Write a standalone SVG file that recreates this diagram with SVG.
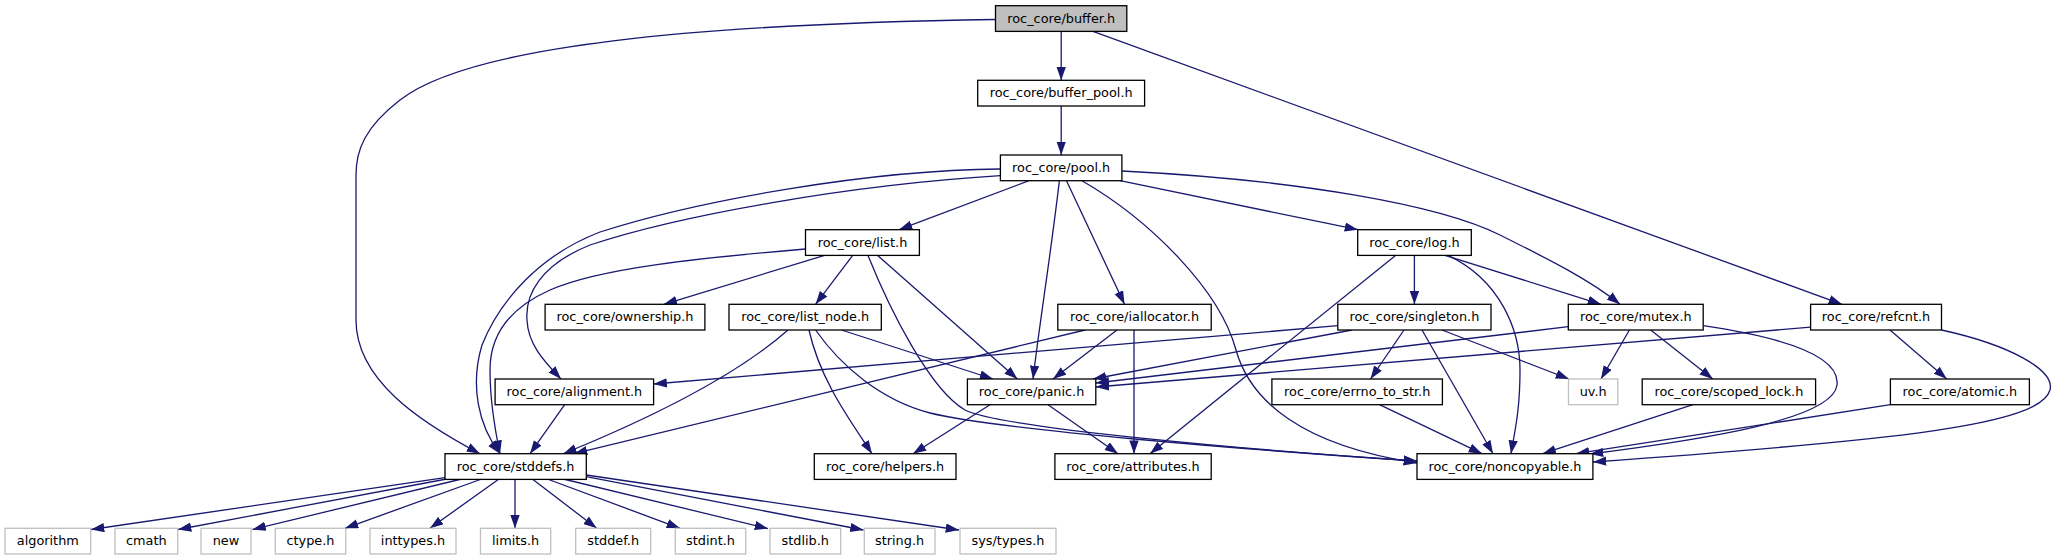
<svg xmlns="http://www.w3.org/2000/svg" width="2056" height="560" viewBox="0 0 2056 560">
<defs>
<marker id="ah" markerUnits="userSpaceOnUse" markerWidth="14" markerHeight="10" refX="13.3" refY="4.67" orient="auto">
<path d="M0,0 L13.3,4.67 L0,9.33 Z" fill="#191970"/>
</marker>
</defs>
<style>
.e{fill:none;stroke:#191970;stroke-width:1.3;marker-end:url(#ah)}
.n rect{fill:#fff;stroke:#000;stroke-width:1.3}
.r rect{fill:#bfbfbf;stroke:#000;stroke-width:1.3}
.x rect{fill:#fff;stroke:#bfbfbf;stroke-width:1.3}
text{font-family:"DejaVu Sans","Liberation Sans",sans-serif;font-size:12.85px;text-anchor:middle;fill:#000}
</style>
<rect x="0" y="0" width="2056" height="560" fill="#fff"/>
<g id="edges">
<path class="e" d="M1061.2,31.4 L1061.2,80.3"/>
<path class="e" d="M995.5,19.5 C700,24 470,45 400,100 C365,127 356,150 356,175 L356,320 C356,380 420,422 480,453.7"/>
<path class="e" d="M1093,31.4 L1842,304.3"/>
<path class="e" d="M1061.2,106 L1061.2,155"/>
<path class="e" d="M1029,180.7 L899,229.7"/>
<path class="e" d="M1120,180.7 L1358,229.7"/>
<path class="e" d="M1059.4,180.7 C1050,260 1040,320 1033,379"/>
<path class="e" d="M1066.5,180.7 L1124.5,304.3"/>
<path class="e" d="M1082,180.7 C1150,220 1220,290 1236,350 C1250,400 1300,445 1417,463"/>
<path class="e" d="M1121.9,171 C1300,180 1440,205 1500,235 C1550,260 1590,280 1620,304.3"/>
<path class="e" d="M1000.4,169 C870,170 700,200 600,232 C540,255 500,300 482,345 C470,385 478,425 500,453.7"/>
<path class="e" d="M1000.4,175.7 C850,185 680,215 590,245 C540,265 525,295 527,320 C528,345 545,362 561,379"/>
<path class="e" d="M824.6,255.4 L663.8,304.3"/>
<path class="e" d="M852.7,255.4 L815.6,304.3"/>
<path class="e" d="M877.7,255.4 L1017.4,379"/>
<path class="e" d="M868,255.4 C890,310 930,390 965,410 C1000,428 1250,450 1417,461"/>
<path class="e" d="M805.5,249 C700,258 600,268 550,290 C505,310 490,340 490,370 C490,400 495,430 500,453.7"/>
<path class="e" d="M1414.4,255.4 L1414.4,304.3"/>
<path class="e" d="M1445,255.4 L1601,304.3"/>
<path class="e" d="M1448,255.4 C1500,280 1520,330 1520,370 C1520,410 1515,430 1511,453.7"/>
<path class="e" d="M1395.5,255.4 L1150,453.7"/>
<path class="e" d="M788,330 Q720,390 563.4,453.7"/>
<path class="e" d="M841.5,330 L993,379"/>
<path class="e" d="M809,330 C820,380 850,420 872,453.7"/>
<path class="e" d="M815.6,330 C840,365 880,400 930,413 C1000,430 1250,450 1417,461"/>
<path class="e" d="M1117,330 L1053,379"/>
<path class="e" d="M1134,330 L1134,453.7"/>
<path class="e" d="M1085,330 L574,453.7"/>
<path class="e" d="M1337.8,325.7 L653.6,384"/>
<path class="e" d="M1352,330 L1093,379"/>
<path class="e" d="M1404,330 L1370.5,379"/>
<path class="e" d="M1422,330 L1493,453.7"/>
<path class="e" d="M1442,330 L1569,379"/>
<path class="e" d="M1568.3,326.7 L1095.8,383"/>
<path class="e" d="M1629.4,330 L1601,379"/>
<path class="e" d="M1650.7,330 L1712.8,379"/>
<path class="e" d="M1703.2,325.7 C1800,340 1840,360 1837,385 C1833,420 1700,440 1590,454"/>
<path class="e" d="M1810.6,327.2 L1095.8,387"/>
<path class="e" d="M1890,330 L1946.8,379"/>
<path class="e" d="M1941.5,330 C2010,345 2055,370 2050,390 C2040,425 1900,440 1593,462"/>
<path class="e" d="M564.7,404.7 L530,453.7"/>
<path class="e" d="M990,404.7 L913,453.7"/>
<path class="e" d="M1048,404.7 L1118,453.7"/>
<path class="e" d="M1379.5,404.7 L1482,453.7"/>
<path class="e" d="M1693,404.7 L1542.6,453.7"/>
<path class="e" d="M1890.4,404.7 L1576,453.7"/>
<path class="e" d="M445,477.7 L91,529.5"/>
<path class="e" d="M446.7,479 L178,529.5"/>
<path class="e" d="M461.7,479 L252.5,529.5"/>
<path class="e" d="M481.7,479 L345,528.3"/>
<path class="e" d="M499,479 L430,528.3"/>
<path class="e" d="M515,479 L515,528.3"/>
<path class="e" d="M532.3,479 L596.7,528.3"/>
<path class="e" d="M547.3,479 L680,528.3"/>
<path class="e" d="M563.3,479 L768,528.6"/>
<path class="e" d="M586.3,476.7 L863.5,530"/>
<path class="e" d="M586.3,475 L959,530"/>
</g>
<g id="n_buffer" class="r"><rect x="995.5" y="5.7" width="131.3" height="25.7"/><text x="1061.2" y="22.7">roc_core/buffer.h</text></g>
<g id="n_buffer_pool" class="n"><rect x="977.7" y="80.3" width="166.9" height="25.7"/><text x="1061.2" y="97.3">roc_core/buffer_pool.h</text></g>
<g id="n_pool" class="n"><rect x="1000.4" y="155" width="121.5" height="25.7"/><text x="1061.2" y="172">roc_core/pool.h</text></g>
<g id="n_list" class="n"><rect x="805.5" y="229.7" width="113.9" height="25.7"/><text x="862.5" y="246.7">roc_core/list.h</text></g>
<g id="n_log" class="n"><rect x="1357.7" y="229.7" width="113.6" height="25.7"/><text x="1414.5" y="246.7">roc_core/log.h</text></g>
<g id="n_ownership" class="n"><rect x="545.1" y="304.3" width="159.8" height="25.7"/><text x="625" y="321.3">roc_core/ownership.h</text></g>
<g id="n_list_node" class="n"><rect x="729" y="304.3" width="152.3" height="25.7"/><text x="805.2" y="321.3">roc_core/list_node.h</text></g>
<g id="n_iallocator" class="n"><rect x="1057.8" y="304.3" width="153.4" height="25.7"/><text x="1134.5" y="321.3">roc_core/iallocator.h</text></g>
<g id="n_singleton" class="n"><rect x="1337.8" y="304.3" width="153.2" height="25.7"/><text x="1414.4" y="321.3">roc_core/singleton.h</text></g>
<g id="n_mutex" class="n"><rect x="1568.3" y="304.3" width="134.9" height="25.7"/><text x="1635.8" y="321.3">roc_core/mutex.h</text></g>
<g id="n_refcnt" class="n"><rect x="1810.6" y="304.3" width="130.9" height="25.7"/><text x="1876" y="321.3">roc_core/refcnt.h</text></g>
<g id="n_alignment" class="n"><rect x="495.1" y="379" width="158.5" height="25.7"/><text x="574.4" y="396">roc_core/alignment.h</text></g>
<g id="n_panic" class="n"><rect x="967.4" y="379" width="128.4" height="25.7"/><text x="1031.6" y="396">roc_core/panic.h</text></g>
<g id="n_errno_to_str" class="n"><rect x="1271.9" y="379" width="170.5" height="25.7"/><text x="1357.2" y="396">roc_core/errno_to_str.h</text></g>
<g id="n_uv" class="x"><rect x="1568.5" y="379" width="49.3" height="25.7"/><text x="1593.2" y="396">uv.h</text></g>
<g id="n_scoped_lock" class="n"><rect x="1642.2" y="379" width="173.4" height="25.7"/><text x="1728.9" y="396">roc_core/scoped_lock.h</text></g>
<g id="n_atomic" class="n"><rect x="1890.4" y="379" width="139" height="25.7"/><text x="1959.9" y="396">roc_core/atomic.h</text></g>
<g id="n_stddefs" class="n"><rect x="445" y="453.7" width="141.3" height="25.7"/><text x="515.6" y="470.7">roc_core/stddefs.h</text></g>
<g id="n_helpers" class="n"><rect x="814.3" y="453.7" width="141.7" height="25.7"/><text x="885.1" y="470.7">roc_core/helpers.h</text></g>
<g id="n_attributes" class="n"><rect x="1054.9" y="453.7" width="156.3" height="25.7"/><text x="1133" y="470.7">roc_core/attributes.h</text></g>
<g id="n_noncopyable" class="n"><rect x="1417" y="453.7" width="175.9" height="25.7"/><text x="1505" y="470.7">roc_core/noncopyable.h</text></g>
<g id="n_algorithm" class="x"><rect x="5" y="528.3" width="85.7" height="25.7"/><text x="47.8" y="545.3">algorithm</text></g>
<g id="n_cmath" class="x"><rect x="115" y="528.3" width="62.7" height="25.7"/><text x="146.3" y="545.3">cmath</text></g>
<g id="n_new" class="x"><rect x="201" y="528.3" width="50" height="25.7"/><text x="226" y="545.3">new</text></g>
<g id="n_ctype" class="x"><rect x="275.3" y="528.3" width="70.4" height="25.7"/><text x="310.5" y="545.3">ctype.h</text></g>
<g id="n_inttypes" class="x"><rect x="370" y="528.3" width="86" height="25.7"/><text x="413" y="545.3">inttypes.h</text></g>
<g id="n_limits" class="x"><rect x="480.5" y="528.3" width="70.2" height="25.7"/><text x="515.6" y="545.3">limits.h</text></g>
<g id="n_stddef" class="x"><rect x="575.7" y="528.3" width="75" height="25.7"/><text x="613.2" y="545.3">stddef.h</text></g>
<g id="n_stdint" class="x"><rect x="675.3" y="528.3" width="70.4" height="25.7"/><text x="710.5" y="545.3">stdint.h</text></g>
<g id="n_stdlib" class="x"><rect x="770" y="528.3" width="70.7" height="25.7"/><text x="805.3" y="545.3">stdlib.h</text></g>
<g id="n_string" class="x"><rect x="864.3" y="528.3" width="70.7" height="25.7"/><text x="899.6" y="545.3">string.h</text></g>
<g id="n_systypes" class="x"><rect x="960" y="528.3" width="96" height="25.7"/><text x="1008" y="545.3">sys/types.h</text></g>
</svg>
